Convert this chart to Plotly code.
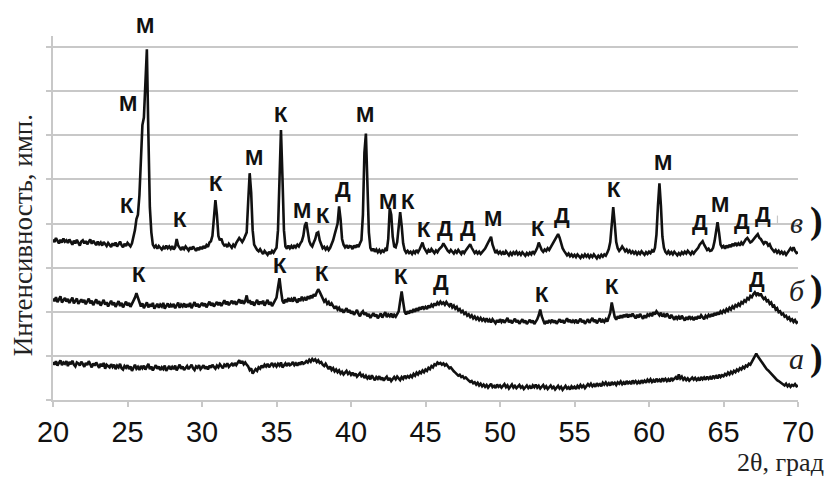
import plotly.graph_objects as go

# ---------------- data (intensity in arbitrary units, grid step = 100) -------------
x_start, x_step = 20.0, 0.1

curve_a = [
    86, 80, 88, 78, 84, 90, 79, 85, 82, 88,
    77, 86, 81, 89, 80, 76, 85, 83, 78, 87,
    82, 75, 84, 79, 88, 80, 74, 83, 78, 85,
    79, 73, 82, 76, 84, 71, 80, 77, 74, 81,
    75, 80, 70, 78, 74, 82, 72, 69, 77, 73,
    79, 70, 76, 66, 74, 80, 71, 75, 68, 77,
    72, 78, 69, 75, 82, 70, 76, 67, 74, 79,
    71, 76, 68, 74, 70, 78, 66, 73, 77, 69,
    75, 70, 78, 67, 74, 80, 71, 76, 68, 73,
    77, 70, 75, 80, 72, 68, 76, 73, 79, 70,
    74, 79, 71, 76, 69, 78, 73, 80, 75, 71,
    78, 74, 81, 76, 72, 80, 77, 83, 75, 79,
    82, 77, 84, 79, 86, 90, 83, 88, 81, 85,
    80, 76, 68, 72, 60, 64, 70, 66, 74, 71,
    78, 73, 80, 76, 82, 74, 79, 84, 77, 81,
    76, 82, 78, 85, 74, 80, 83, 77, 84, 79,
    81, 86, 79, 83, 78, 85, 80, 87, 82, 84,
    88, 85, 91, 87, 93, 89, 92, 86, 90, 84,
    86, 80, 77, 82, 74, 70, 76, 68, 72, 65,
    69, 63, 67, 60, 64, 58, 62, 66, 59, 63,
    57, 62, 55, 60, 53, 58, 61, 54, 57, 50,
    55, 49, 53, 47, 56, 50, 45, 52, 48, 54,
    46, 51, 44, 49, 53, 45, 50, 43, 48, 52,
    47, 53, 49, 45, 52, 48, 55, 50, 54, 51,
    56, 52, 59, 55, 62, 58, 64, 61, 67, 63,
    69, 66, 73, 70, 77, 74, 81, 79, 85, 82,
    84, 80, 83, 78, 81, 76, 72, 74, 68, 65,
    62, 58, 55, 57, 52, 54, 49, 51, 46, 44,
    41, 43, 38, 40, 35, 39, 33, 37, 31, 35,
    30, 34, 28, 33, 37, 29, 32, 27, 35, 30,
    33, 28, 31, 36, 29, 33, 26, 31, 35, 28,
    32, 27, 30, 34, 28, 31, 25, 30, 33, 27,
    31, 26, 33, 29, 35, 28, 32, 26, 30, 34,
    27, 31, 25, 29, 33, 27, 30, 24, 28, 32,
    26, 30, 23, 28, 32, 26, 29, 24, 31, 27,
    30, 25, 32, 28, 34, 29, 33, 27, 31, 36,
    32, 37, 31, 35, 30, 38, 33, 36, 31, 39,
    35, 40, 34, 38, 33, 41, 36, 39, 34, 40,
    37, 42, 36, 40, 35, 43, 38, 41, 36, 44,
    39, 43, 38, 42, 37, 45, 40, 44, 39, 46,
    42, 47, 41, 45, 40, 48, 43, 46, 41, 49,
    44, 48, 43, 47, 42, 50, 45, 48, 52, 46,
    58, 49, 53, 46, 50, 45, 49, 44, 48, 51,
    46, 50, 45, 49, 44, 52, 47, 51, 46, 53,
    48, 52, 47, 55, 50, 54, 49, 57, 52, 56,
    54, 59, 56, 62, 58, 64, 60, 66, 63, 69,
    66, 72, 69, 75, 72, 78, 76, 82, 80, 87,
    92, 100, 105, 99, 94, 88, 84, 78, 75, 70,
    67, 63, 60, 55, 52, 48, 45, 43, 40, 38,
    36, 33, 37, 31, 35, 30, 34, 32, 36, 31,
    33,
]

curve_b = [
    230, 224, 233, 222, 228, 235, 221, 227, 231, 223,
    229, 220, 226, 232, 219, 225, 230, 218, 224, 228,
    221, 227, 217, 224, 230, 219, 225, 215, 222, 228,
    218, 224, 214, 221, 227, 216, 222, 212, 219, 225,
    215, 221, 211, 218, 224, 213, 220, 210, 217, 223,
    214, 220, 211, 218, 224, 232, 242, 230, 218, 212,
    219, 208, 215, 221, 210, 217, 212, 220, 207, 214,
    218, 209, 216, 212, 220, 207, 214, 219, 210, 216,
    211, 218, 208, 215, 221, 209, 216, 212, 219, 210,
    217, 211, 220, 208, 215, 222, 212, 218, 210, 216,
    220, 213, 219, 210, 217, 223, 214, 220, 212, 218,
    222, 215, 221, 213, 219, 226, 217, 223, 215, 221,
    225, 218, 224, 216, 222, 228, 219, 226, 218, 224,
    237, 220, 226, 217, 223, 214, 221, 227, 216, 223,
    218, 225, 214, 221, 227, 216, 222, 213, 220, 226,
    232, 255, 276, 248, 225, 219, 228, 222, 231, 224,
    229, 223, 233, 226, 221, 230, 224, 234, 227, 231,
    226, 235, 229, 237, 231, 240, 235, 244, 251, 245,
    238, 230, 223, 227, 218, 222, 214, 219, 211, 207,
    213, 205, 209, 201, 206, 198, 203, 208, 199, 204,
    196, 201, 193, 198, 204, 195, 190, 197, 201, 193,
    198, 190, 195, 186, 192, 197, 189, 194, 185, 191,
    196, 187, 193, 199, 188, 194, 190, 196, 187, 193,
    189, 195, 201, 224, 246, 222, 200, 194, 201, 196,
    203, 198, 206, 200, 208, 202, 210, 205, 212, 207,
    211, 206, 214, 209, 216, 212, 219, 214, 221, 217,
    223, 218, 221, 216, 222, 217, 213, 219, 210, 214,
    207, 211, 203, 206, 199, 202, 195, 198, 191, 194,
    188, 192, 185, 189, 183, 187, 181, 186, 180, 184,
    179, 185, 177, 182, 176, 183, 178, 174, 181, 176,
    183, 177, 182, 175, 180, 186, 176, 181, 174, 179,
    184, 176, 181, 173, 178, 183, 175, 180, 172, 177,
    182, 175, 180, 172, 177, 183, 192, 205, 190, 178,
    172, 179, 174, 181, 176, 182, 175, 180, 173, 178,
    183, 176, 181, 174, 179, 185, 177, 182, 175, 180,
    176, 182, 174, 179, 184, 176, 181, 173, 178, 183,
    175, 180, 186, 177, 182, 174, 179, 185, 176, 181,
    177, 183, 178, 186, 198, 221, 205, 188, 182, 190,
    185, 192, 186, 193, 188, 195, 187, 194, 189, 196,
    190, 185, 193, 187, 195, 189, 184, 192, 186, 194,
    191, 197, 190, 199, 194, 201, 195, 192, 198, 189,
    194, 188, 196, 190, 185, 193, 187, 182, 190, 184,
    189, 183, 191, 185, 180, 188, 182, 190, 184, 187,
    181, 188, 183, 190, 185, 192, 186, 183, 191, 187,
    193, 188, 195, 190, 197, 192, 199, 194, 201, 197,
    203, 199, 206, 202, 209, 205, 212, 208, 215, 212,
    218, 214, 222, 219, 226, 223, 231, 228, 236, 233,
    240, 244, 238, 243, 236, 241, 234, 229, 232, 224,
    226, 218, 221, 212, 214, 205, 208, 199, 201, 194,
    196, 189, 191, 184, 187, 180, 183, 177, 181, 175,
    178,
]

curve_v = [
    364, 358, 367, 360, 355, 363, 357, 366, 359, 362,
    356, 364, 358, 352, 361, 355, 363, 357, 350, 359,
    362, 355, 360, 353, 358, 364, 354, 361, 356, 351,
    359, 353, 357, 350, 358, 354, 349, 356, 352, 347,
    355, 350, 357, 348, 353, 359, 351, 346, 354, 349,
    356, 351, 348, 355, 368, 385, 410, 420, 464, 566,
    623, 640, 702, 795, 605, 437, 380, 352, 346, 350,
    343, 349, 345, 341, 347, 342, 350, 344, 348, 343,
    349, 341, 346, 365, 350, 346, 340, 347, 342, 348,
    344, 339, 346, 341, 348, 343, 338, 345, 340, 347,
    342, 349, 344, 351, 347, 357, 360, 372, 410, 453,
    420, 372, 362, 366, 355, 350, 352, 347, 354, 349,
    345, 352, 348, 356, 362, 367, 363, 358, 364, 372,
    380, 450, 514, 470, 385, 352, 344, 340, 337, 342,
    336, 331, 338, 333, 329, 336, 331, 338, 334, 340,
    345, 385, 520, 612, 505, 385, 348, 343, 350, 344,
    349, 343, 351, 346, 352, 348, 355, 360, 372, 395,
    403, 378, 360, 352, 348, 357, 365, 378, 380, 362,
    350, 344, 347, 341, 346, 340, 345, 352, 362, 375,
    385, 400, 439, 410, 365, 352, 346, 351, 344, 349,
    348, 342, 350, 345, 352, 347, 355, 362, 420, 560,
    604, 500, 380, 345, 338, 343, 336, 341, 335, 340,
    334, 339, 336, 342, 338, 365, 435, 420, 370, 348,
    346, 358, 390, 426, 395, 355, 340, 334, 338, 333,
    336, 331, 337, 333, 340, 335, 341, 348, 357, 345,
    338, 334, 340, 335, 342, 337, 333, 339, 335, 341,
    344, 348, 355, 349, 343, 338, 335, 340, 336, 332,
    338, 334, 340, 336, 331, 338, 333, 339, 344, 348,
    353, 345, 338, 333, 337, 332, 336, 331, 335, 338,
    343, 350, 358, 366, 370, 352, 340, 333, 338, 332,
    336, 331, 335, 330, 337, 332, 328, 334, 329, 335,
    331, 336, 330, 334, 329, 335, 331, 327, 333, 329,
    334, 330, 337, 332, 338, 345, 357, 348, 340, 336,
    341, 338, 344, 340, 346, 351, 357, 362, 370, 376,
    368, 352, 344, 338, 333, 328, 332, 326, 330, 325,
    329, 324, 330, 326, 322, 328, 324, 330, 325, 329,
    323, 328, 324, 330, 326, 321, 327, 323, 329, 325,
    330, 327, 334, 342, 358, 410, 437, 400, 358, 344,
    338, 342, 348, 343, 337, 341, 335, 339, 333, 337,
    332, 336, 330, 335, 331, 337, 333, 329, 335, 331,
    336, 333, 339, 335, 345, 375, 440, 491, 440, 370,
    345, 336, 332, 337, 331, 335, 330, 336, 332, 328,
    333, 329, 335, 331, 336, 332, 338, 334, 330, 336,
    332, 337, 341, 345, 352, 357, 360, 352, 345, 340,
    343, 338, 339, 345, 360, 385, 403, 380, 352, 346,
    349, 343, 350, 345, 352, 347, 354, 349, 356, 351,
    355, 350, 357, 353, 360, 364, 367, 361, 357, 359,
    364, 370, 372, 376, 368, 365, 360, 354, 358, 357,
    350, 353, 345, 341, 336, 340, 334, 338, 332, 336,
    331, 335, 329, 334, 338, 344, 340, 346, 338, 333,
    335,
]

x_tick_vals = [20, 25, 30, 35, 40, 45, 50, 55, 60, 65, 70]
x_tick_text = ["20", "25", "30", "35", "40", "45", "50", "55", "60", "65", "70"]

# phase labels: (text, 2theta, intensity)
peak_labels_v = [
    ("М", 25.03, 671), ("К", 24.97, 441), ("К", 28.52, 410),
    ("К", 30.94, 491), ("М", 33.49, 550), ("К", 35.30, 646), ("М", 36.71, 430),
    ("К", 38.12, 419), ("Д", 39.46, 478), ("М", 40.94, 646), ("М", 42.48, 450),
    ("К", 43.83, 450), ("К", 44.90, 387), ("Д", 46.31, 389), ("Д", 47.85, 389),
    ("М", 49.53, 412), ("К", 52.55, 389), ("Д", 54.16, 419), ("К", 57.65, 478),
    ("М", 60.94, 539), ("Д", 63.42, 403), ("М", 64.77, 444), ("Д", 66.24, 405),
    ("Д", 67.65, 421),
]
top_label = ("М", 26.17)
peak_labels_b = [
    ("К", 25.77, 285), ("К", 35.23, 305), ("К", 38.05, 287), ("К", 43.36, 280),
    ("Д", 46.04, 267), ("К", 52.82, 239), ("К", 57.52, 258), ("Д", 67.25, 274),
]
curve_names = ["а", "б", "в"]
curve_label_y = [94, 249, 403]

assert len(curve_a) == len(curve_b) == len(curve_v) == 501
two_theta = [round(x_start + i * x_step, 1) for i in range(len(curve_a))]

Y_MAX = 825

# ---------------- figure ----------------
fig = go.Figure()
for yv in (curve_a, curve_b, curve_v):
    fig.add_trace(go.Scatter(x=two_theta, y=yv, mode="lines",
                             line=dict(color="#111111", width=2.6),
                             showlegend=False, hoverinfo="skip"))

label_font = dict(family="Liberation Sans, Arial, sans-serif", size=22, color="#111111")
for txt, xx, yy in peak_labels_v + peak_labels_b:
    fig.add_annotation(x=xx, y=yy, xref="x", yref="y", text="<b>%s</b>" % txt,
                       showarrow=False, font=label_font, xanchor="center", yanchor="middle")
fig.add_annotation(x=top_label[1], y=848 / Y_MAX, xref="x", yref="paper",
                   text="<b>%s</b>" % top_label[0], showarrow=False, font=label_font,
                   xanchor="center", yanchor="middle")

for name, yy in zip(curve_names, curve_label_y):
    fig.add_annotation(x=69.93, y=yy, xref="x", yref="y", text="<i>%s</i>" % name,
                       showarrow=False, xanchor="center", yanchor="middle",
                       font=dict(family="Liberation Serif, Times New Roman, serif", size=30, color="#222222"))
    fig.add_annotation(x=1.0242, y=(yy + 3) / Y_MAX, xref="paper", yref="paper", text="<b>)</b>",
                       showarrow=False, xanchor="center", yanchor="middle",
                       font=dict(family="Liberation Serif, Times New Roman, serif", size=38, color="#111111"))

# gaps in the grid behind the curve labels
for yy in (400, 100):
    fig.add_shape(type="rect", xref="x", yref="y", x0=68.62, x1=70.05, y0=yy - 6, y1=yy + 6,
                  fillcolor="white", line=dict(width=0), layer="below")
fig.add_shape(type="line", xref="x", yref="y", x0=68.62, x1=68.62, y0=400, y1=418,
              line=dict(color="#c8c8c8", width=1.2), layer="below")

fig.add_annotation(x=-0.0403, y=0.4525, xref="paper", yref="paper",
                   text="Интенсивность, имп.", textangle=-90, showarrow=False,
                   xanchor="center", yanchor="middle",
                   font=dict(family="Liberation Serif, Times New Roman, serif", size=27, color="#222222"))
fig.add_annotation(x=1.0376, y=-0.172, xref="paper", yref="paper",
                   text="2θ, град", showarrow=False, xanchor="right", yanchor="middle",
                   font=dict(family="Liberation Serif, Times New Roman, serif", size=26, color="#222222"))

grid_col = "#c8c8c8"
fig.update_layout(
    width=826, height=478,
    margin=dict(l=53, r=28, t=36, b=78),
    paper_bgcolor="white", plot_bgcolor="white",
    xaxis=dict(range=[20, 70], tickvals=x_tick_vals, ticktext=x_tick_text,
               showgrid=False, zeroline=False, showline=True, linecolor=grid_col, linewidth=1.5,
               ticks="outside", ticklen=5, tickcolor=grid_col, tickwidth=1.5,
               tickfont=dict(family="Liberation Sans, Arial, sans-serif", size=29, color="#111111")),
    yaxis=dict(range=[0, Y_MAX], dtick=100, tick0=0, showticklabels=False,
               showgrid=True, gridcolor=grid_col, gridwidth=1.5, zeroline=False,
               showline=True, linecolor=grid_col, linewidth=1.5,
               ticks="outside", ticklen=5, tickcolor=grid_col, tickwidth=1.5),
)

fig.write_html("out.html", config={"displayModeBar": False},
               post_script="document.body.style.margin='0';document.body.style.overflow='hidden';")
